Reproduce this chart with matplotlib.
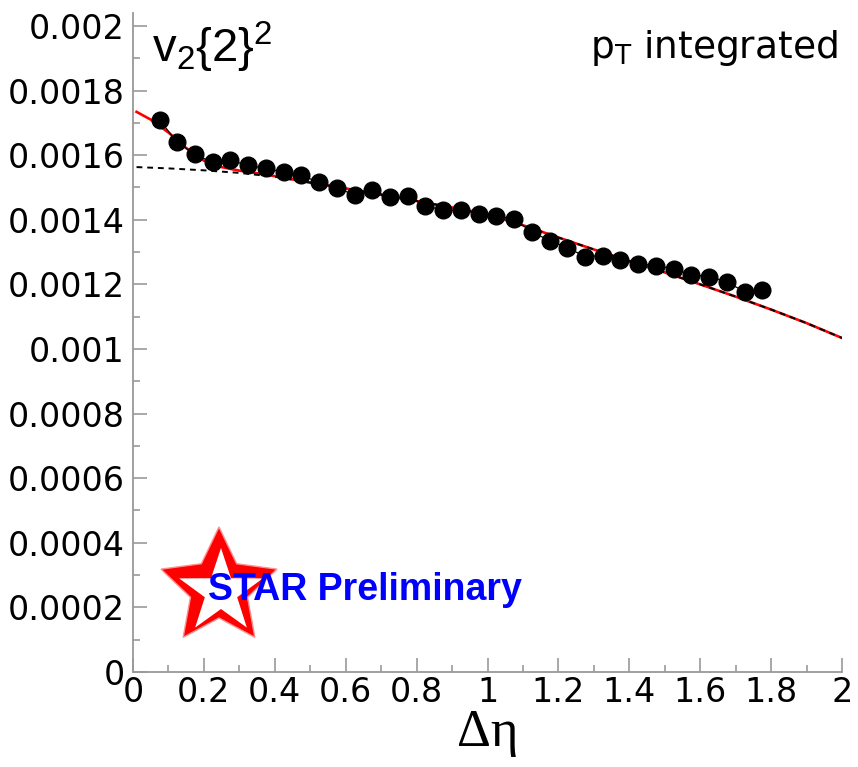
import numpy as np
import matplotlib
matplotlib.use("Agg")
import matplotlib.pyplot as plt
from matplotlib.patches import Polygon
from matplotlib.ticker import MultipleLocator, FixedLocator, FixedFormatter

# measured v2{2}^2 vs delta eta
deta = [0.075, 0.125, 0.175, 0.225, 0.275, 0.325, 0.375, 0.425, 0.475, 0.525,
        0.575, 0.625, 0.675, 0.725, 0.775, 0.825, 0.875, 0.925, 0.975, 1.025,
        1.075, 1.125, 1.175, 1.225, 1.275, 1.325, 1.375, 1.425, 1.475, 1.525,
        1.575, 1.625, 1.675, 1.725, 1.775]
v22 = [0.001708, 0.001640, 0.001602, 0.001578, 0.001584, 0.001568, 0.001559,
       0.001547, 0.001537, 0.001516, 0.001497, 0.001478, 0.001491, 0.001469,
       0.001472, 0.001444, 0.001429, 0.001429, 0.001419, 0.001413, 0.001401,
       0.001363, 0.001335, 0.001314, 0.001286, 0.001289, 0.001276, 0.001264,
       0.001258, 0.001248, 0.001230, 0.001224, 0.001208, 0.001177, 0.001183]

# fit curves
fit_x = [0.01, 0.1, 0.2, 0.3, 0.4, 0.5, 0.6, 0.7, 0.8, 0.9, 1.0,
         1.1, 1.2, 1.3, 1.4, 1.5, 1.6, 1.7, 1.8, 1.9, 2.0]
fit_wide = [0.001563, 0.001559, 0.001553, 0.001545, 0.001533, 0.001515, 0.001497,
            0.001477, 0.001458, 0.001438, 0.001417, 0.001383, 0.001345, 0.001308,
            0.001272, 0.001237, 0.001200, 0.001162, 0.001122, 0.001080, 0.001034]
full_x = [0.01, 0.05, 0.1, 0.15, 0.2, 0.25, 0.3, 0.35, 0.4, 0.5, 0.6, 0.7, 0.8,
          0.9, 1.0, 1.1, 1.2, 1.3, 1.4, 1.5, 1.6, 1.7, 1.8, 1.9, 2.0]
fit_full = [0.001734, 0.001710, 0.001670, 0.001622, 0.001583, 0.001563, 0.001552,
            0.001544, 0.001535, 0.001515, 0.001497, 0.001477, 0.001458, 0.001438,
            0.001417, 0.001383, 0.001345, 0.001308, 0.001272, 0.001237, 0.001200,
            0.001162, 0.001122, 0.001080, 0.001034]

ytick_vals = [0, 0.0002, 0.0004, 0.0006, 0.0008, 0.001, 0.0012, 0.0014,
              0.0016, 0.0018, 0.002]
ytick_text = ["0", "0.0002", "0.0004", "0.0006", "0.0008", "0.001", "0.0012",
              "0.0014", "0.0016", "0.0018", "0.002"]
xtick_vals = [0, 0.2, 0.4, 0.6, 0.8, 1.0, 1.2, 1.4, 1.6, 1.8, 2.0]
xtick_text = ["0", "0.2", "0.4", "0.6", "0.8", "1", "1.2", "1.4", "1.6", "1.8", "2"]

plt.rcParams["mathtext.fontset"] = "custom"
plt.rcParams["mathtext.rm"] = "Liberation Sans"
plt.rcParams["mathtext.it"] = "Liberation Sans:italic"

W, H = 858, 767
fig = plt.figure(figsize=(W / 100, H / 100), dpi=100)
ax = fig.add_axes([133 / W, 1 - 672 / H, 709 / W, 659 / H])

ax.plot(full_x, fit_full, color="red", lw=1.9, zorder=2)
ax.plot(fit_x, fit_wide, color="black", lw=1.4, ls=(0, (3, 2.5)), zorder=3)
ax.plot(deta, v22, color="black", lw=0.9, marker="o", ms=12, zorder=4)

ax.set_xlim(0, 2)
ax.set_ylim(0, 0.00204)

for side in ["top", "right"]:
    ax.spines[side].set_visible(False)
for side in ["left", "bottom"]:
    ax.spines[side].set_color("#999999")
    ax.spines[side].set_linewidth(1.3)

ax.xaxis.set_major_locator(FixedLocator(xtick_vals))
ax.xaxis.set_major_formatter(FixedFormatter(xtick_text))
ax.xaxis.set_minor_locator(MultipleLocator(0.1))
ax.yaxis.set_major_locator(FixedLocator(ytick_vals))
ax.yaxis.set_major_formatter(FixedFormatter(ytick_text))
ax.yaxis.set_minor_locator(MultipleLocator(0.0001))
ax.tick_params(which="both", direction="in", color="#999999", width=1.2,
               labelsize=24, labelcolor="black")
ax.tick_params(which="major", length=10)
ax.tick_params(which="minor", length=5)
ax.tick_params(axis="y", pad=6)
ax.tick_params(axis="x", pad=3)

ax.set_xlabel("Δη", family="Liberation Serif", fontsize=38, labelpad=0)

ax.text(0.027, 0.99, r"v$_\mathregular{2}${2}$^\mathregular{2}$", transform=ax.transAxes,
        family="Liberation Sans", fontsize=34, va="top", ha="left")
ax.text(0.994, 0.977, r"p$_\mathregular{T}$ integrated", transform=ax.transAxes,
        fontsize=27, va="top", ha="right")


def star(cx, cy, R, r):
    pts = []
    for k in range(10):
        ang = np.pi / 2 + k * np.pi / 5
        rad = R if k % 2 == 0 else r
        pts.append(((cx + rad * np.cos(ang)) / W, (cy + rad * np.sin(ang)) / H))
    return pts


# STAR logo, pixel centre from the top left of the picture
scx, scy = 219, H - 588
fig.patches.append(Polygon(star(scx, scy, 61, 30), closed=True, transform=fig.transFigure,
                           facecolor="#ff0000", edgecolor="#ff9090", lw=1))
fig.patches.append(Polygon(star(scx + 2, scy - 4, 44, 17), closed=True, transform=fig.transFigure,
                           facecolor="white", edgecolor="none"))
fig.text(208 / W, 1 - 590 / H, "STAR Preliminary", family="Liberation Sans",
         weight="bold", fontsize=27, color="#0000ff", va="center", ha="left")

fig.savefig("out.png", dpi=100)
